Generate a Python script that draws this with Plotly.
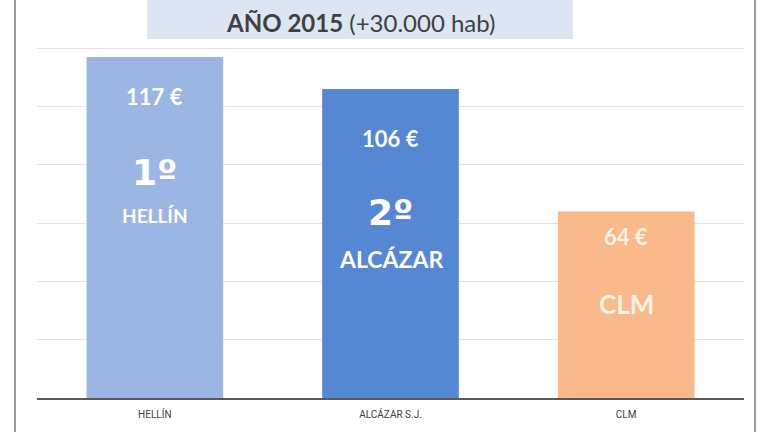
import plotly.graph_objects as go

categorias = ['HELLÍN', 'ALCÁZAR S.J.', 'CLM']
importes = [117, 106, 64]
etiquetas_valor = ['117 €', '106 €', '64 €']
puestos = ['1º', '2º', '']
nombres = ['HELLÍN', 'ALCÁZAR', 'CLM']
colores = ['#9cb6e4', '#5587d3', '#fab98a']

fig = go.Figure()

fig.add_trace(go.Bar(
    x=categorias,
    y=importes,
    marker_color=colores,
    marker_line_width=0,
    hoverinfo='skip',
))

# textos dentro de las barras (posiciones en unidades del eje)
pos_valor = [103.5, 89, 55.5]
pos_puesto = [77.5, 63.5, None]
pos_nombre = [62.5, 47.8, 32.3]
tam_nombre = [19, 23, 26]
color_texto = ['white', 'white', '#fff3e6']

for i, cat in enumerate(categorias):
    fig.add_annotation(x=cat, y=pos_valor[i], text='<b>%s</b>' % etiquetas_valor[i],
                       showarrow=False, font=dict(size=22, color=color_texto[i]))
    if puestos[i]:
        fig.add_annotation(x=cat, y=pos_puesto[i], text='<b>%s</b>' % puestos[i],
                           showarrow=False,
                           font=dict(size=36, color=color_texto[i], family='DejaVu Sans'))
    fig.add_annotation(x=cat, y=pos_nombre[i], text='<b>%s</b>' % nombres[i],
                       showarrow=False, font=dict(size=tam_nombre[i], color=color_texto[i]))

# recuadro del titulo
fig.add_shape(type='rect', xref='paper', yref='paper',
              x0=0.1556, x1=0.7581, y0=1.023, y1=1.2,
              fillcolor='#dce6f2', line_width=0, layer='below')
fig.add_annotation(xref='paper', yref='paper', x=0.457, y=1.071, yanchor='middle',
                   text='<b>AÑO 2015</b> (+30.000 hab)', showarrow=False,
                   font=dict(size=24, color='#404040'))

# marco lateral
for xp in [-0.0311, 1.0156]:
    fig.add_shape(type='line', xref='paper', yref='paper',
                  x0=xp, x1=xp, y0=-0.2, y1=1.2,
                  line=dict(color='#9a9a9a', width=2))

fig.update_layout(
    width=768,
    height=432,
    margin=dict(l=37, r=24, t=47, b=34),
    paper_bgcolor='white',
    plot_bgcolor='white',
    bargap=0.42,
    showlegend=False,
    font=dict(family='Lato, Open Sans, sans-serif', color='#404040'),
    xaxis=dict(
        showgrid=False,
        showline=True,
        linecolor='#595959',
        linewidth=1.5,
        ticks='',
        ticklabelstandoff=6,
        tickfont=dict(size=10, color='#404040',
                      family='Liberation Sans Narrow, Roboto, sans-serif'),
    ),
    yaxis=dict(
        range=[0, 120.4],
        dtick=20,
        showgrid=True,
        gridcolor='#e3e3e3',
        gridwidth=1,
        showticklabels=False,
        zeroline=False,
    ),
)

fig.write_html('out.html', config={'displayModeBar': False},
               post_script="document.body.style.margin='0';")
